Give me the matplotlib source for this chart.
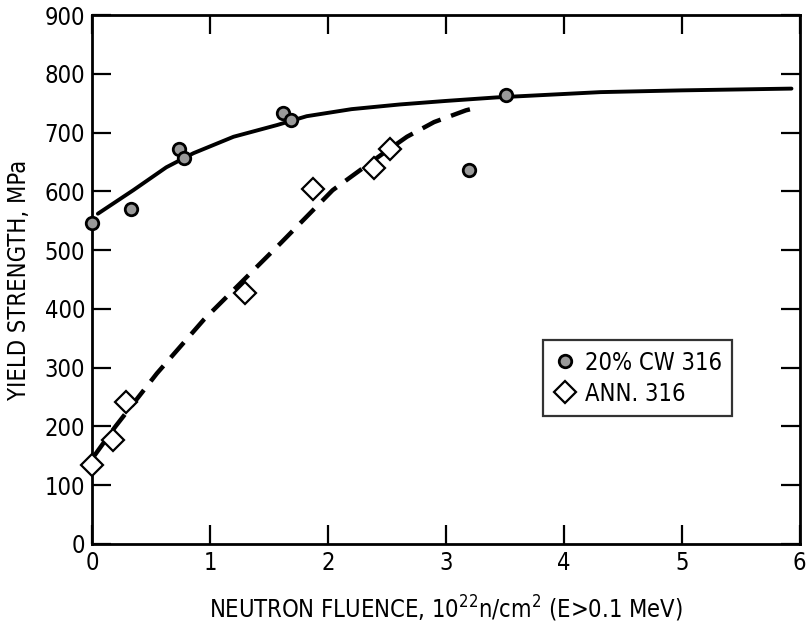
import numpy as np
import matplotlib
matplotlib.use("Agg")
import matplotlib.pyplot as plt

plt.rcParams['font.family'] = ['DejaVu Sans']
plt.rcParams['font.stretch'] = 'condensed'

# measured points, 20% cold-worked 316
cw_fluence = [0.0, 0.33, 0.74, 0.78, 1.62, 1.69, 3.2, 3.51]
cw_ys      = [546, 570, 673, 656, 734, 721, 636, 764]

# measured points, annealed 316
ann_fluence = [0.0, 0.18, 0.29, 1.3, 1.87, 2.39, 2.53]
ann_ys      = [134, 177, 241, 427, 604, 639, 673]

# hand-drawn trend lines
cw_fit_x = [0.05, 0.35, 0.63, 0.86, 1.2, 1.57, 1.82, 2.2, 2.61, 3.0, 3.43, 4.31, 5.0, 5.93]
cw_fit_y = [562, 602, 641, 665, 693, 713, 728, 740, 748, 754, 760, 769, 772, 775]

ann_fit_x = [0.02, 0.2, 0.55, 0.95, 1.2, 1.6, 2.04, 2.19, 2.45, 2.67, 2.9, 3.17, 3.25]
ann_fit_y = [150, 200, 290, 382, 432, 512, 602, 624, 662, 693, 718, 738, 742]

fig = plt.figure(figsize=(8.07, 6.33), dpi=100)
ax = fig.add_axes([0.114, 0.141, 0.877, 0.835])

ax.plot(cw_fit_x, cw_fit_y, color='black', lw=2.8, solid_capstyle='round', zorder=2)
ax.plot(ann_fit_x, ann_fit_y, color='black', lw=3.2, dashes=(4.5, 2.5), zorder=2)

ax.plot(cw_fluence, cw_ys, 'o', ms=9, mfc='#9a9a9a', mec='black', mew=2,
        clip_on=False, zorder=3, label='20% CW 316')
ax.plot(ann_fluence, ann_ys, 'D', ms=11, mfc='white', mec='black', mew=1.6,
        clip_on=False, zorder=3, label='ANN. 316')

ax.set_xlim(0, 6)
ax.set_ylim(0, 900)
ax.set_xticks(np.arange(0, 7, 1))
ax.set_yticks(np.arange(0, 1000, 100))
ax.tick_params(direction='in', length=14, width=1.6, labelsize=17,
               top=True, right=True, pad=5)
for s in ax.spines.values():
    s.set_linewidth(2)

ax.set_xlabel('NEUTRON FLUENCE, $10^{22}$n/cm$^2$ (E>0.1 MeV)', fontsize=17, labelpad=14)
ax.set_ylabel('YIELD STRENGTH, MPa', fontsize=17, labelpad=10)

leg = ax.legend(loc='upper left', bbox_to_anchor=(0.621, 0.408), fontsize=17,
                frameon=True, fancybox=False, edgecolor='black', handletextpad=0.4,
                borderpad=0.45, handlelength=0.9, labelspacing=0.3)
leg.get_frame().set_linewidth(1.6)

fig.savefig('out.png', dpi=100)
